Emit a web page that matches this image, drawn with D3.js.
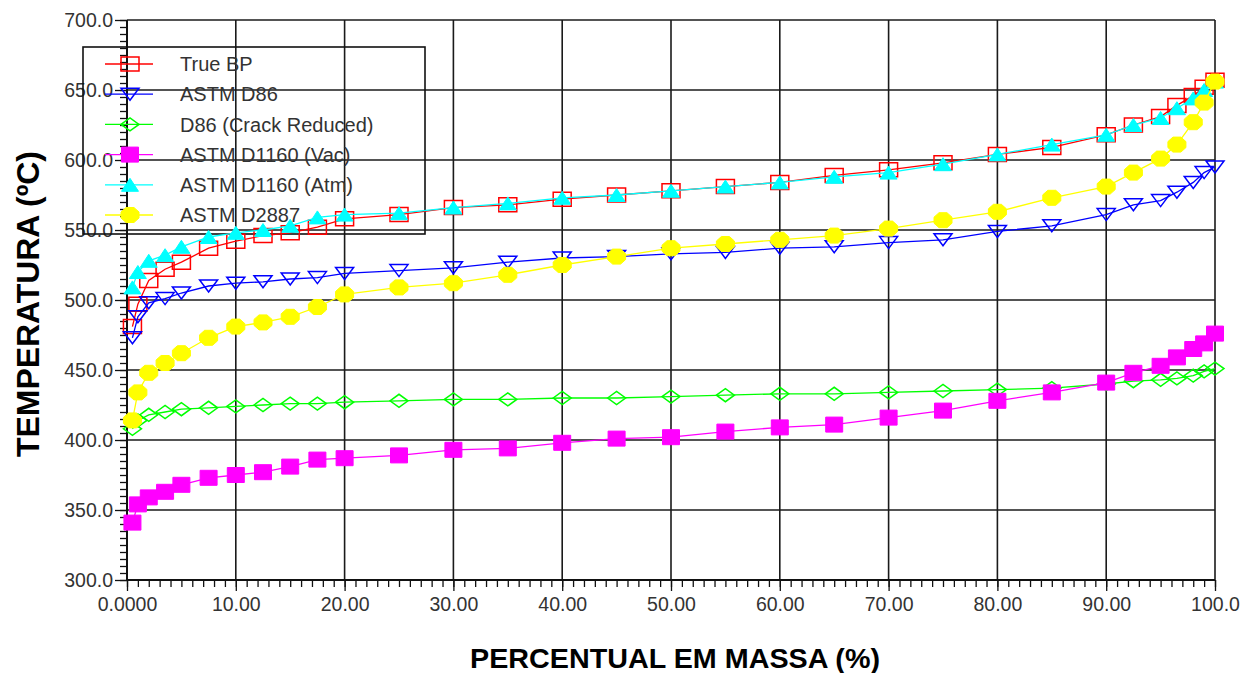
<!DOCTYPE html>
<html>
<head>
<meta charset="utf-8">
<script src="https://cdn.jsdelivr.net/npm/d3@7"></script>
<style>
  body { margin: 0; background: #fff; }
  svg text { font-family: "Liberation Sans", Arial, sans-serif; }
</style>
</head>
<body>
<svg width="1260" height="673"></svg>
<script>
'use strict';

// mass percent of each assay point (shared by all curves)
const massPct = [0.5, 1, 2, 3.5, 5, 7.5, 10, 12.5, 15, 17.5, 20, 25, 30, 35, 40, 45, 50,
  55, 60, 65, 70, 75, 80, 85, 90, 92.5, 95, 96.5, 98, 99, 100];

// temperatures (ºC)
const trueBP = [481, 497, 514, 522, 527, 537, 542, 546, 548, 552, 558, 561, 566, 568, 572, 575, 578,
  581, 584, 589, 593, 598, 604, 609, 618, 625, 631, 639, 646, 652, 657];
const astmD86 = [473, 488, 498, 501, 505, 510, 512, 513, 515, 516, 519, 521, 523, 527, 530, 531, 533,
  534, 537, 538, 541, 543, 549, 553, 561, 568, 571, 577, 584, 591, 595];
const d86Crack = [408, 414, 418, 420, 422, 423, 424, 425, 426, 426, 427, 428, 429, 429, 430, 430, 431,
  432, 433, 433, 434, 435, 436, 437, 440, 442, 443, 444, 446, 449, 451];
const d1160Vac = [341, 354, 359, 363, 368, 373, 375, 377, 381, 386, 387, 389, 393, 394, 398, 401, 402,
  406, 409, 411, 416, 421, 428, 434, 441, 448, 453, 459, 465, 469, 476];
const d1160Atm = [509, 520, 528, 532, 538, 545, 548, 550, 553, 559, 561, 562, 566, 569, 573, 575, 578,
  581, 584, 588, 591, 597, 604, 611, 618, 625, 630, 637, 644, 650, 656];
const d2887 = [414, 434, 448, 455, 462, 473, 481, 484, 488, 495, 504, 509, 512, 518, 525, 531, 537,
  540, 543, 546, 551, 557, 563, 573, 581, 591, 601, 611, 627, 641, 656];

const seriesNames = ['True BP', 'ASTM D86', 'D86 (Crack Reduced)', 'ASTM D1160 (Vac)',
  'ASTM D1160 (Atm)', 'ASTM D2887'];

const yTicks = [300, 350, 400, 450, 500, 550, 600, 650, 700];
const xTicks = [0, 10, 20, 30, 40, 50, 60, 70, 80, 90, 100];
const xTickLabels = ['0.0000', '10.00', '20.00', '30.00', '40.00', '50.00', '60.00', '70.00',
  '80.00', '90.00', '100.0'];

// style of each curve, same order as seriesNames
const styles = [
  { color: '#ff0000', marker: 'rect', fill: false, w: 18, h: 14 },
  { color: '#0000ff', marker: 'triDown', fill: false, w: 18, h: 12 },
  { color: '#00ff00', marker: 'diamond', fill: false, w: 18, h: 13 },
  { color: '#ff00ff', marker: 'rect', fill: true, w: 17, h: 15 },
  { color: '#00ffff', marker: 'triUp', fill: true, w: 17, h: 13 },
  { color: '#ffff00', marker: 'octagon', fill: true, w: 18, h: 15 }
];

const seriesValues = [trueBP, astmD86, d86Crack, d1160Vac, d1160Atm, d2887];
const series = seriesNames.map((name, i) => ({
  name,
  style: styles[i],
  points: massPct.map((p, j) => ({ x: p, y: seriesValues[i][j] }))
}));

const svg = d3.select('svg');
const width = +svg.attr('width');

const margin = { top: 20, right: 45, bottom: 93, left: 127 };
const plotRight = width - margin.right;   // 1215
const plotBottom = 580;

const xScale = d3.scaleLinear().domain([0, 100]).range([margin.left, plotRight]);
const yScale = d3.scaleLinear().domain([300, 700]).range([plotBottom, margin.top]);

// marker outline centred on 0,0
const markerPath = (type, w, h) => {
  const a = w / 2, b = h / 2;
  if (type === 'rect') return `M${-a},${-b}H${a}V${b}H${-a}Z`;
  if (type === 'triDown') return `M${-a},${-b}H${a}L0,${b}Z`;
  if (type === 'triUp') return `M${-a},${b}H${a}L0,${-b}Z`;
  if (type === 'diamond') return `M${-a},0L0,${-b}L${a},0L0,${b}Z`;
  const c = w * 0.22, d = h * 0.2;
  return `M${-a},${-d}L${-c},${-b}L${c},${-b}L${a},${-d}L${a},${d}L${c},${b}L${-c},${b}L${-a},${d}Z`;
};

const styleMarker = (sel, st) => sel
  .attr('d', markerPath(st.marker, st.w, st.h))
  .attr('fill', st.fill ? st.color : 'none')
  .attr('stroke', st.color)
  .attr('stroke-width', st.fill ? 1 : 1.5);

// grid
const grid = svg.append('g').attr('stroke', '#1a1a1a').attr('stroke-width', 1.6);
grid.selectAll('.vg').data(xTicks.slice(1)).enter().append('line')
  .attr('x1', d => xScale(d)).attr('x2', d => xScale(d))
  .attr('y1', margin.top).attr('y2', plotBottom);
grid.selectAll('.hg').data(yTicks.slice(1)).enter().append('line')
  .attr('x1', margin.left).attr('x2', plotRight)
  .attr('y1', d => yScale(d)).attr('y2', d => yScale(d));

// y axis
const yMinor = svg.append('g').attr('transform', `translate(${margin.left},0)`)
  .call(d3.axisLeft(yScale).tickValues(d3.range(300, 701, 5)).tickSize(7).tickFormat(''));
yMinor.select('.domain').remove();
const yAxisG = svg.append('g').attr('transform', `translate(${margin.left},0)`)
  .call(d3.axisLeft(yScale).tickValues(yTicks).tickSize(12).tickPadding(2)
    .tickFormat(d3.format('.1f')));
yAxisG.select('.domain').remove();

// x axis
const xMinor = svg.append('g').attr('transform', `translate(0,${plotBottom})`)
  .call(d3.axisBottom(xScale).tickValues(d3.range(0, 101, 1)).tickSize(7).tickFormat(''));
xMinor.select('.domain').remove();
const xAxisG = svg.append('g').attr('transform', `translate(0,${plotBottom})`)
  .call(d3.axisBottom(xScale).tickValues(xTicks).tickSize(11).tickPadding(6)
    .tickFormat((d, i) => xTickLabels[i]));
xAxisG.select('.domain').remove();

svg.selectAll('.tick line').attr('stroke', '#111').attr('stroke-width', 1.3);
svg.selectAll('.tick text')
  .attr('fill', '#333')
  .style('font-size', '19.5px');

svg.append('line')
  .attr('x1', margin.left).attr('x2', margin.left)
  .attr('y1', margin.top).attr('y2', plotBottom + 1)
  .attr('stroke', '#111').attr('stroke-width', 2);
svg.append('line')
  .attr('x1', margin.left).attr('x2', plotRight)
  .attr('y1', plotBottom).attr('y2', plotBottom)
  .attr('stroke', '#111').attr('stroke-width', 2);

// axis titles (the original is a stretched raster, so fix the text length)
svg.append('text')
  .attr('x', 675)
  .attr('y', 668)
  .attr('text-anchor', 'middle')
  .attr('font-weight', 'bold')
  .attr('textLength', 410)
  .attr('lengthAdjust', 'spacingAndGlyphs')
  .style('font-size', '28px')
  .attr('fill', '#000')
  .text('PERCENTUAL EM MASSA (%)');
svg.append('text')
  .attr('transform', 'translate(39,304) rotate(-90)')
  .attr('text-anchor', 'middle')
  .attr('font-weight', 'bold')
  .attr('textLength', 306)
  .attr('lengthAdjust', 'spacingAndGlyphs')
  .style('font-size', '32px')
  .attr('fill', '#000')
  .text('TEMPERATURA (ºC)');

// legend frame (transparent, grid shows through)
const legend = { x: 83, y: 47, w: 342, h: 187, rowY: 64, rowStep: 30.2 };
svg.append('rect')
  .attr('x', legend.x).attr('y', legend.y)
  .attr('width', legend.w).attr('height', legend.h)
  .attr('fill', 'none').attr('stroke', '#111').attr('stroke-width', 1.6);

// curves, later series on top
const line = d3.line().x(d => xScale(d.x)).y(d => yScale(d.y));
series.forEach(s => {
  const g = svg.append('g');
  g.append('path')
    .datum(s.points)
    .attr('d', line)
    .attr('fill', 'none')
    .attr('stroke', s.style.color)
    .attr('stroke-width', 1.3);
  g.selectAll('path.mk').data(s.points).enter().append('path')
    .attr('class', 'mk')
    .attr('transform', d => `translate(${xScale(d.x)},${yScale(d.y)})`)
    .call(styleMarker, s.style);
});

// legend entries
series.forEach((s, i) => {
  const cy = legend.rowY + i * legend.rowStep;
  const g = svg.append('g');
  g.append('line')
    .attr('x1', 105).attr('x2', 153)
    .attr('y1', cy).attr('y2', cy)
    .attr('stroke', s.style.color).attr('stroke-width', 1.3);
  g.append('path')
    .attr('transform', `translate(130,${cy})`)
    .call(styleMarker, s.style);
  g.append('text')
    .attr('x', 180).attr('y', cy)
    .attr('dy', '0.36em')
    .attr('fill', '#333')
    .style('font-size', '20px')
    .text(s.name);
});
</script>
</body>
</html>
